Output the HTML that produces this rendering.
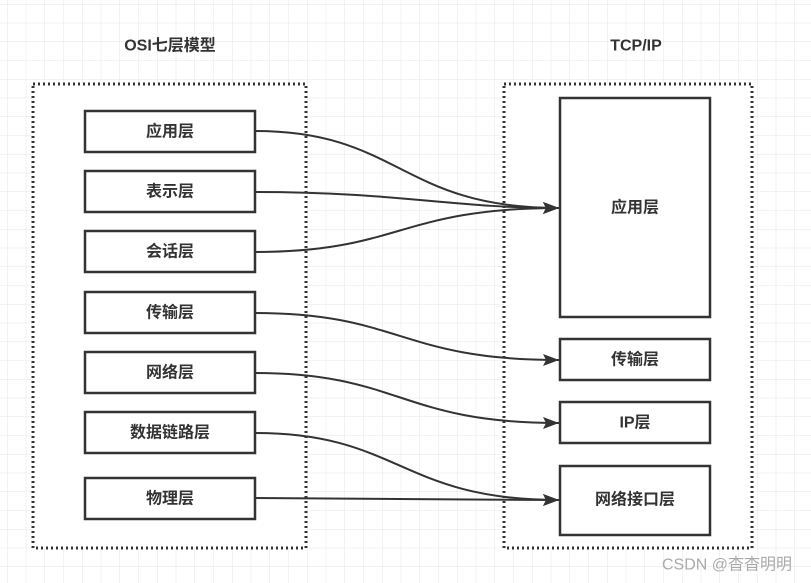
<!DOCTYPE html>
<html><head><meta charset="utf-8"><style>
body{margin:0;background:#fff;}
svg{display:block;}
text{font-family:"Liberation Sans","Noto Sans CJK SC",sans-serif;font-size:16px;fill:#333;text-anchor:middle;dominant-baseline:central;}
</style></head><body>
<svg width="811" height="583" viewBox="0 0 811 583">
<defs>
<pattern id="g" x="7" y="4" width="18.75" height="18.75" patternUnits="userSpaceOnUse">
<path d="M0 0V18.75M0 0H18.75" stroke="#e6e6e6" stroke-width="1" fill="none"/>
</pattern>
<marker id="a" markerWidth="16" markerHeight="12" refX="16" refY="6" orient="auto" markerUnits="userSpaceOnUse" viewBox="0 0 16 12">
<path d="M0 0L16 6L0 12L3 6Z" fill="#333"/>
</marker>
</defs>
<rect width="811" height="583" fill="url(#g)"/>
<text x="170" y="46" style="font-weight:bold">OSI七层模型</text>
<text x="636" y="46" style="font-weight:bold">TCP/IP</text>
<rect x="33" y="84" width="273" height="464" fill="#fff" stroke="#333" stroke-width="3" stroke-dasharray="2,3"/>
<rect x="504" y="84" width="248" height="464" fill="#fff" stroke="#333" stroke-width="3" stroke-dasharray="2,3"/>
<g fill="#fff" stroke="#333" stroke-width="2.5">
<rect x="85" y="111" width="170" height="41"/>
<rect x="85" y="171" width="170" height="41"/>
<rect x="85" y="231" width="170" height="41"/>
<rect x="85" y="292" width="170" height="41"/>
<rect x="85" y="352" width="170" height="41"/>
<rect x="85" y="412" width="170" height="41"/>
<rect x="85" y="478" width="170" height="41"/>
<rect x="560" y="98" width="150" height="219"/>
<rect x="560" y="339" width="150" height="41"/>
<rect x="560" y="402" width="150" height="41"/>
<rect x="560" y="466" width="150" height="69"/>
</g>
<g style="font-weight:bold">
<text x="170" y="132">应用层</text>
<text x="170" y="192">表示层</text>
<text x="170" y="252">会话层</text>
<text x="170" y="313">传输层</text>
<text x="170" y="373">网络层</text>
<text x="170" y="433">数据链路层</text>
<text x="170" y="499">物理层</text>
<text x="635" y="208">应用层</text>
<text x="635" y="360">传输层</text>
<text x="635" y="423">IP层</text>
<text x="635" y="500">网络接口层</text>
</g>
<g fill="none" stroke="#333" stroke-width="2" marker-end="url(#a)">
<path d="M255 131C400 131 400 208 559 208"/>
<path d="M255 192C400 192 450 208 559 208"/>
<path d="M255 252C400 252 400 208 559 208"/>
<path d="M255 313C400 313 400 360 559 360"/>
<path d="M255 373C400 373 400 423 559 423"/>
<path d="M255 433C400 433 400 500 559 500"/>
<path d="M255 498C400 498 450 500 559 500"/>
</g>
<text x="727" y="565" style="font-size:16px;fill:#aaa">CSDN @杳杳明明</text>
</svg>
</body></html>
